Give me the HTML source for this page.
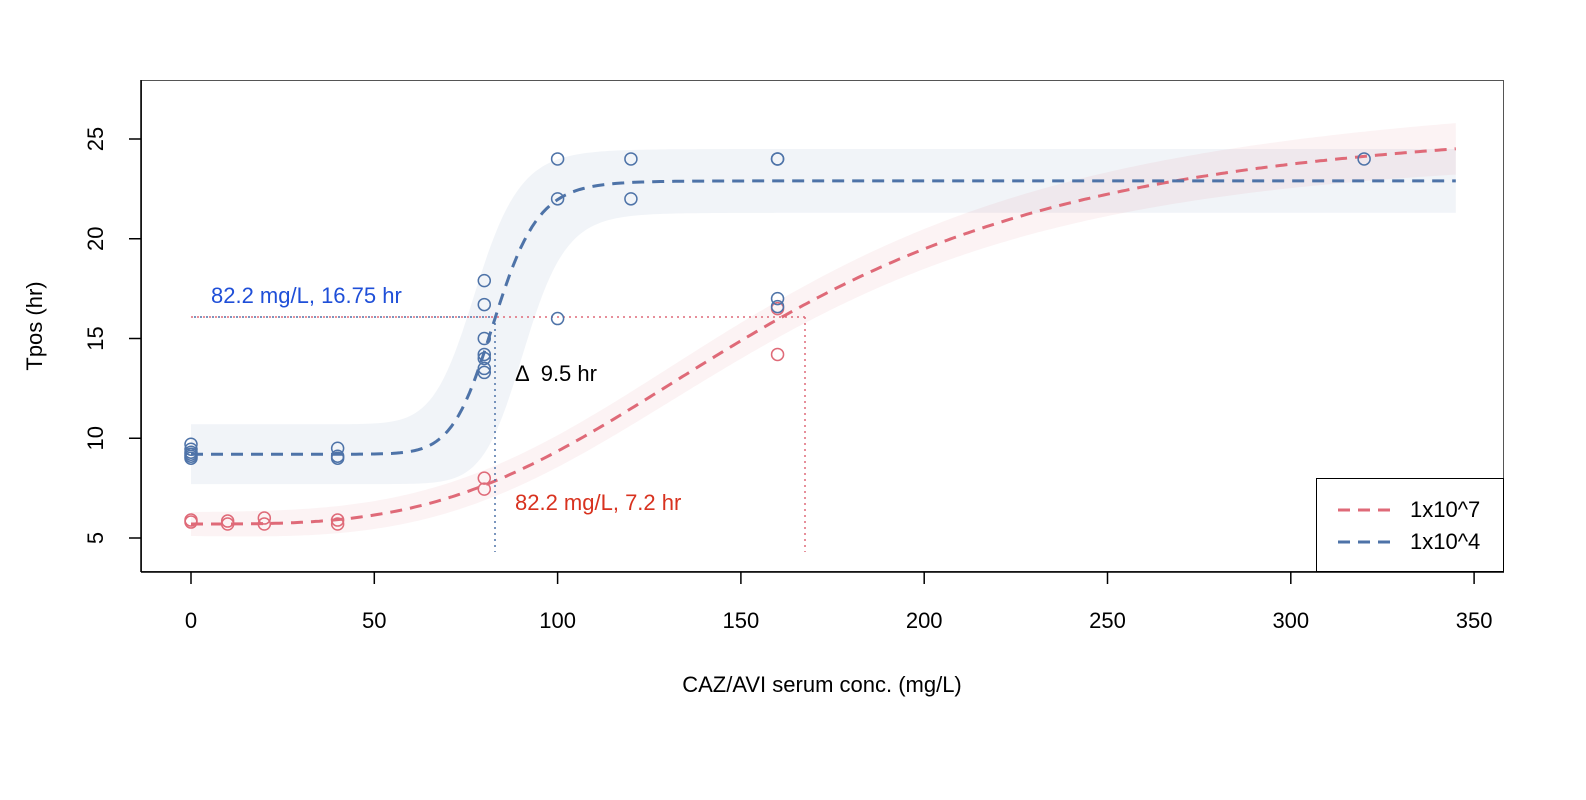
<!DOCTYPE html>
<html><head><meta charset="utf-8"><style>body{margin:0;background:#fff}svg{display:block}</style></head>
<body>
<svg id="s" width="1586" height="800" xmlns="http://www.w3.org/2000/svg" font-family="Liberation Sans, Arial, sans-serif">
<rect width="1586" height="800" fill="#fff"/>
<g id="bands"></g>
<g id="lines"></g>
<line x1="191" y1="317" x2="805" y2="317" stroke="#df6a78" stroke-width="1.5" stroke-dasharray="2,4"/>
<line x1="191" y1="317" x2="495" y2="317" stroke="#4e73a8" stroke-width="1.5" stroke-dasharray="2,4" stroke-dashoffset="3"/>
<line x1="495" y1="317" x2="495" y2="552" stroke="#4e73a8" stroke-width="1.5" stroke-dasharray="2,4"/>
<line x1="805" y1="317" x2="805" y2="552" stroke="#df6a78" stroke-width="1.5" stroke-dasharray="2,4"/>
<g id="pts" fill="none" stroke-width="1.5"></g>
<text x="211" y="303" font-size="22" fill="#1f4fd8">82.2 mg/L, 16.75 hr</text>
<text x="515" y="381" font-size="22" fill="#000" xml:space="preserve">Δ  9.5 hr</text>
<text x="515" y="510" font-size="22" fill="#d8321f">82.2 mg/L, 7.2 hr</text>
<rect x="141.5" y="80.5" width="1362" height="491" fill="none" stroke="#555" stroke-width="1"/>
<line x1="141" y1="80" x2="141" y2="572" stroke="#000" stroke-width="1.5"/>
<line x1="141" y1="572" x2="1504" y2="572" stroke="#000" stroke-width="1.5"/>
<g id="ax" stroke="#000" stroke-width="1.5"></g>
<g id="axt" font-size="22" fill="#000"></g>
<text x="822" y="692" font-size="22" text-anchor="middle">CAZ/AVI serum conc. (mg/L)</text>
<text transform="translate(42,326) rotate(-90)" font-size="22" text-anchor="middle">Tpos (hr)</text>
<rect x="1316.5" y="478.5" width="187" height="93" fill="#fff" stroke="#000" stroke-width="1"/>
<line x1="1338" y1="510" x2="1390" y2="510" stroke="#df6a78" stroke-width="3" stroke-dasharray="12,8"/>
<line x1="1338" y1="542" x2="1390" y2="542" stroke="#4e73a8" stroke-width="3" stroke-dasharray="12,8"/>
<text x="1410" y="517" font-size="22">1x10^7</text>
<text x="1410" y="549" font-size="22">1x10^4</text>
</svg>
<script>
const X=v=>191+v*3.666, Y=v=>538-(v-5)*19.95;
const hill=(x,b,t,c,n)=>b+(t-b)*Math.pow(x,n)/(Math.pow(x,n)+Math.pow(c,n));
const blue=x=>hill(x,9.2,22.9,83,14), red=x=>hill(x,5.7,26,159,3.27);
const bu=x=>hill(x,10.7,24.5,78,13), bl=x=>hill(x,7.7,21.3,91,16);
const ru=x=>red(x)+0.6+x*0.002, rl=x=>red(x)-0.6-x*0.002;
function path(f){let d='';for(let x=0;x<=345;x+=1)d+=(x?'L':'M')+X(x).toFixed(1)+','+Y(f(x)).toFixed(1);return d;}
function band(u,l){let d='';for(let x=0;x<=345;x++)d+=(x?'L':'M')+X(x).toFixed(1)+','+Y(u(x)).toFixed(1);for(let x=345;x>=0;x--)d+='L'+X(x).toFixed(1)+','+Y(l(x)).toFixed(1);return d+'Z';}
const ns='http://www.w3.org/2000/svg';
function el(p,t,a){const e=document.createElementNS(ns,t);for(const k in a)e.setAttribute(k,a[k]);document.getElementById(p).appendChild(e);return e;}
el('bands','path',{d:band(bu,bl),fill:'#4e73a8','fill-opacity':0.08});
el('bands','path',{d:band(ru,rl),fill:'#df6a78','fill-opacity':0.08});
el('lines','path',{d:path(red),fill:'none',stroke:'#df6a78','stroke-width':3,'stroke-dasharray':'12,8'});
el('lines','path',{d:path(blue),fill:'none',stroke:'#4e73a8','stroke-width':3,'stroke-dasharray':'12,8'});
const bp=[[0,9],[0,9.1],[0,9.2],[0,9.3],[0,9.45],[0,9.7],[40,9],[40,9.1],[40,9.5],[80,17.9],[80,16.7],[80,15],[80,14.2],[80,14],[80,13.5],[80,13.3],[100,24],[100,22],[100,16],[120,24],[120,22],[160,24],[160,24],[160,17],[160,16.6],[320,24]];
const rp=[[0,5.8],[0,5.9],[10,5.7],[10,5.85],[20,5.7],[20,6],[40,5.7],[40,5.9],[80,8],[80,7.45],[160,16.5],[160,14.2]];
rp.forEach(p=>el('pts','circle',{cx:X(p[0]),cy:Y(p[1]),r:6,stroke:'#df6a78'}));
bp.forEach(p=>el('pts','circle',{cx:X(p[0]),cy:Y(p[1]),r:6,stroke:'#4e73a8'}));
for(let v=0;v<=350;v+=50){el('ax','line',{x1:X(v),y1:572,x2:X(v),y2:584});const t=el('axt','text',{x:X(v),y:628,'text-anchor':'middle'});t.textContent=v;}
for(let v=5;v<=25;v+=5){el('ax','line',{x1:129,y1:Y(v),x2:141,y2:Y(v)});const t=el('axt','text',{transform:`translate(103,${Y(v)}) rotate(-90)`,'text-anchor':'middle'});t.textContent=v;}
</script>
</body></html>
